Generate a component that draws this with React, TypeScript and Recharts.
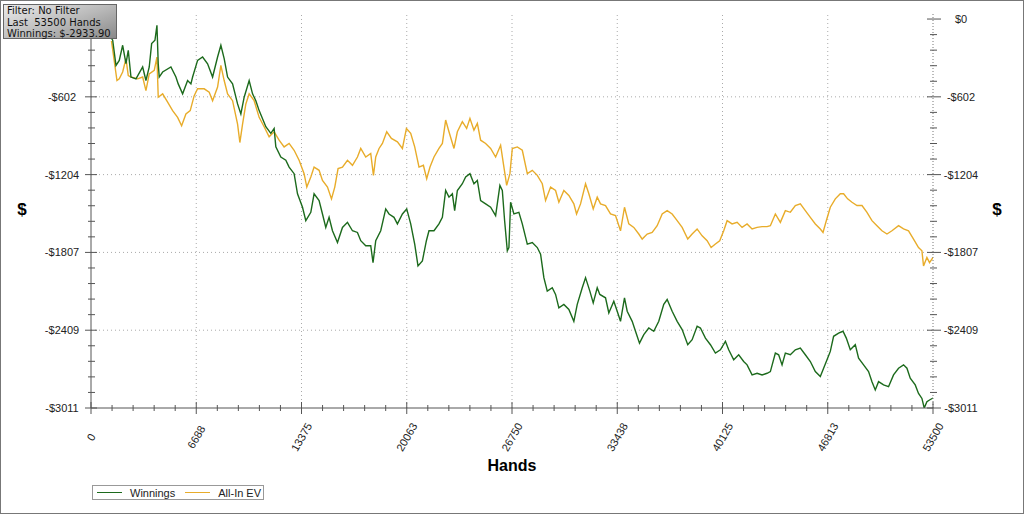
import { LineChart, Line, XAxis, YAxis, ReferenceLine } from 'recharts'

// hands played vs cumulative $
const WINNINGS: [number, number][] = [
  [1200, -130], [1378, -164], [1587, -359], [1796, -320], [2012, -203], [2222, -346], [2368, -242], [2539, -449],
  [2857, -463], [3282, -371], [3491, -476], [3701, -371], [3853, -190], [4063, -164], [4190, -48], [4272, -346],
  [4336, -449], [4552, -410], [5078, -371], [5396, -449], [5542, -502], [5821, -579], [6139, -476], [6348, -502],
  [6456, -449], [6773, -320], [7091, -294], [7408, -346], [7726, -449], [8043, -294], [8252, -203], [8462, -307],
  [8678, -449], [8995, -502], [9313, -657], [9522, -735], [9732, -605], [10049, -476], [10265, -579], [10474, -632],
  [10684, -709], [11109, -834], [11426, -885], [11636, -847], [11744, -990], [12061, -1068], [12379, -1093],
  [12588, -1146], [12906, -1197], [13121, -1353], [13439, -1457], [13648, -1561], [13966, -1496], [14175, -1353],
  [14493, -1405], [14708, -1509], [14918, -1613], [15127, -1535], [15343, -1639], [15661, -1730], [15978, -1613],
  [16295, -1574], [16613, -1639], [16930, -1652], [17140, -1716], [17457, -1755], [17774, -1755], [17920, -1885],
  [18092, -1716], [18409, -1639], [18727, -1470], [18936, -1509], [19253, -1535], [19469, -1586], [19787, -1509],
  [20060, -1470], [20314, -1586], [20568, -1742], [20777, -1911], [21056, -1872], [21310, -1716], [21475, -1639],
  [21793, -1639], [22110, -1586], [22326, -1535], [22535, -1327], [22745, -1379], [22961, -1353], [23107, -1483],
  [23278, -1327], [23595, -1275], [23805, -1223], [24078, -1197], [24332, -1275], [24548, -1249], [24757, -1405],
  [25075, -1431], [25392, -1457], [25709, -1522], [25982, -1288], [26135, -1327], [26281, -1561], [26452, -1794],
  [26554, -1769], [26662, -1418], [26871, -1509], [27188, -1496], [27404, -1586], [27722, -1742], [28039, -1730],
  [28357, -1769], [28566, -1820], [28775, -2002], [28991, -2106], [29309, -2080], [29518, -2132], [29728, -2236],
  [30045, -2209], [30363, -2248], [30680, -2340], [30896, -2209], [31213, -2080], [31423, -2002], [31696, -2106],
  [31911, -2197], [32165, -2080], [32330, -2132], [32692, -2158], [32902, -2275], [33219, -2184], [33435, -2262],
  [33644, -2340], [33898, -2158], [34070, -2262], [34387, -2340], [34597, -2417], [34851, -2509], [35124, -2443],
  [35441, -2392], [35758, -2417], [36076, -2340], [36393, -2209], [36609, -2171], [36926, -2262], [37244, -2340],
  [37561, -2404], [37917, -2521], [38196, -2482], [38513, -2378], [38723, -2392], [39040, -2470], [39358, -2521],
  [39675, -2586], [39992, -2560], [40310, -2495], [40519, -2560], [40837, -2638], [41154, -2599], [41471, -2651],
  [41687, -2677], [42005, -2755], [42322, -2742], [42640, -2755], [42957, -2742], [43166, -2729], [43484, -2586],
  [43693, -2599], [43909, -2677], [44119, -2586], [44436, -2599], [44753, -2560], [45071, -2547], [45388, -2599],
  [45706, -2651], [46023, -2729], [46340, -2768], [46550, -2703], [46766, -2638], [46975, -2573], [47185, -2456],
  [47502, -2431], [47781, -2417], [47991, -2470], [48245, -2560], [48562, -2521], [48772, -2625], [49089, -2677],
  [49406, -2729], [49622, -2807], [49832, -2871], [50041, -2807], [50359, -2832], [50676, -2846], [50993, -2755],
  [51311, -2703], [51628, -2677], [51844, -2703], [52054, -2781], [52371, -2832], [52580, -2898], [52796, -2937],
  [52942, -3011], [53113, -2963], [53279, -2949], [53500, -2934],
]

const ALLIN_EV: [number, number][] = [
  [1300, -170], [1650, -476], [1796, -463], [2012, -410], [2222, -307], [2368, -437], [2539, -449], [2965, -463],
  [3282, -449], [3491, -554], [3701, -424], [4018, -398], [4190, -294], [4272, -605], [4552, -579], [4869, -644],
  [5186, -709], [5504, -761], [5758, -826], [6031, -735], [6304, -709], [6557, -593], [6773, -540], [7192, -540],
  [7510, -566], [7726, -632], [8043, -527], [8252, -359], [8462, -476], [8678, -579], [8995, -632], [9313, -813],
  [9459, -956], [9630, -813], [9839, -657], [10049, -579], [10366, -632], [10684, -761], [11001, -834],
  [11319, -912], [11636, -873], [11953, -938], [12271, -990], [12588, -963], [12906, -1016], [13223, -1093],
  [13540, -1197], [13712, -1301], [13966, -1223], [14175, -1146], [14493, -1171], [14708, -1249], [15026, -1301],
  [15280, -1392], [15489, -1301], [15699, -1158], [15978, -1146], [16295, -1093], [16613, -1132], [16930, -1068],
  [17140, -1002], [17457, -1068], [17774, -1041], [17946, -1210], [18092, -1068], [18302, -1002], [18517, -963],
  [18790, -873], [19088, -924], [19469, -951], [19787, -1002], [20041, -847], [20314, -885], [20568, -990],
  [20841, -1146], [21120, -1132], [21329, -1236], [21539, -1146], [21793, -1068], [22110, -1002], [22326, -963],
  [22535, -782], [22745, -873], [23063, -1002], [23278, -873], [23595, -795], [23868, -847], [24078, -769],
  [24332, -860], [24548, -808], [24757, -938], [25075, -963], [25392, -1002], [25709, -1068], [26027, -977],
  [26236, -1146], [26411, -1288], [26617, -1197], [26770, -1002], [27087, -990], [27404, -1016], [27722, -1197],
  [28039, -1171], [28357, -1210], [28674, -1275], [28883, -1405], [29201, -1301], [29518, -1327], [29728, -1418],
  [30045, -1327], [30363, -1366], [30680, -1431], [30852, -1509], [31105, -1431], [31423, -1275], [31633, -1353],
  [31911, -1470], [32165, -1379], [32375, -1431], [32692, -1444], [33010, -1509], [33327, -1522], [33644, -1639],
  [33898, -1457], [34171, -1586], [34489, -1613], [34806, -1664], [35022, -1703], [35339, -1664], [35657, -1652],
  [35974, -1600], [36292, -1509], [36609, -1483], [36926, -1509], [37244, -1561], [37561, -1613], [37917, -1703],
  [38196, -1664], [38513, -1625], [38831, -1678], [39148, -1716], [39402, -1769], [39675, -1742], [39948, -1716],
  [40202, -1639], [40418, -1561], [40735, -1586], [41053, -1574], [41370, -1613], [41687, -1586], [42005, -1625],
  [42322, -1613], [42640, -1607], [42957, -1607], [43166, -1600], [43484, -1509], [43801, -1574], [44119, -1483],
  [44436, -1496], [44753, -1444], [45071, -1431], [45388, -1483], [45706, -1535], [46023, -1586], [46340, -1625],
  [46512, -1652], [46721, -1561], [46975, -1457], [47293, -1392], [47610, -1353], [47820, -1353], [48074, -1392],
  [48353, -1418], [48670, -1444], [48988, -1444], [49305, -1496], [49622, -1561], [49940, -1600], [50257, -1639],
  [50575, -1664], [50892, -1639], [51311, -1600], [51628, -1625], [51946, -1639], [52263, -1703], [52580, -1769],
  [52796, -1794], [52898, -1911], [53113, -1846], [53279, -1885], [53500, -1846],
]

const X_TICKS = [0, 6687.5, 13375, 20062.5, 26750, 33437.5, 40125, 46812.5, 53500]
const Y_TICKS = [0, -602.2, -1204.4, -1806.6, -2408.8, -3011]
const Y_DOMAIN = [-3011, 39]

const INFO_LINES = ['Filter: No Filter', 'Last  53500 Hands', 'Winnings: $-2933.90']

const GREEN = '#1c6a1c'
const GOLD = '#e8ac2a'
const AXIS = '#555'
const FONT = "'Liberation Sans', Arial, sans-serif"

// 5 minor steps between each labelled tick
const withMinor = (major: number[]) => {
  const out: number[] = []
  for (let i = 0; i < major.length - 1; i++) {
    const step = (major[i + 1] - major[i]) / 5
    for (let j = 0; j < 5; j++) out.push(major[i] + j * step)
  }
  out.push(major[major.length - 1])
  return out
}
const X_ALL = withMinor(X_TICKS)
const Y_ALL = withMinor(Y_TICKS)

const winData = WINNINGS.map(([hands, value]) => ({ hands, value }))
const evData = ALLIN_EV.map(([hands, value]) => ({ hands, value }))

const fmtDollar = (v: number) => (Math.round(v) === 0 ? '$0' : `-$${Math.abs(Math.round(v))}`)

const BottomTick = ({ x, y, payload }: any) => {
  const major = X_TICKS.includes(payload.value)
  const ly = y + 29
  return (
    <g>
      <line x1={x} x2={x} y1={y - (major ? 6 : 3)} y2={y + (major ? 6 : 3)} stroke={AXIS} />
      {major && (
        <text
          x={x}
          y={ly}
          transform={`rotate(-60 ${x} ${ly})`}
          textAnchor="middle"
          dominantBaseline="central"
          fontSize={11}
          fontFamily={FONT}
          fill="#222"
        >
          {Math.round(payload.value)}
        </text>
      )}
    </g>
  )
}

const TopTick = ({ x, y }: any) => <line x1={x} x2={x} y1={y - 3} y2={y} stroke={AXIS} />

// left $0 sits under the info box, so it is not labelled
const LeftTick = ({ x, y, payload }: any) => {
  const major = Y_TICKS.includes(payload.value)
  return (
    <g>
      <line x1={x - (major ? 6 : 3)} x2={x + (major ? 6 : 4)} y1={y} y2={y} stroke={AXIS} />
      {major && payload.value !== 0 && (
        <text x={x - 29} y={y} textAnchor="middle" dominantBaseline="central" fontSize={11} fontFamily={FONT} fill="#222">
          {fmtDollar(payload.value)}
        </text>
      )}
    </g>
  )
}

const RightTick = ({ x, y, payload }: any) => {
  const major = Y_TICKS.includes(payload.value)
  return (
    <g>
      <line x1={x - (major ? 6 : 3)} x2={x + (major ? 8 : 4)} y1={y} y2={y} stroke={AXIS} />
      {major && (
        <text x={x + 28} y={y} textAnchor="middle" dominantBaseline="central" fontSize={11} fontFamily={FONT} fill="#222">
          {fmtDollar(payload.value)}
        </text>
      )}
    </g>
  )
}

export default function App() {
  return (
    <div style={{ position: 'absolute', left: 0, top: 0, width: 1024, height: 514, background: '#fff', fontFamily: FONT }}>
      <LineChart width={1024} height={514} margin={{ top: 14, right: 0, bottom: 0, left: 0 }}>
        <XAxis
          dataKey="hands"
          type="number"
          domain={[0, 53500]}
          ticks={X_ALL}
          interval={0}
          height={106}
          tickSize={0}
          tickMargin={0}
          tick={<BottomTick />}
          axisLine={{ stroke: AXIS }}
          allowDataOverflow
        />
        <XAxis
          xAxisId="top"
          orientation="top"
          type="number"
          domain={[0, 53500]}
          ticks={X_ALL}
          interval={0}
          height={0}
          tickSize={0}
          tickMargin={0}
          tick={<TopTick />}
          axisLine={{ stroke: AXIS }}
          allowDataOverflow
        />
        <YAxis
          type="number"
          domain={Y_DOMAIN}
          ticks={Y_ALL}
          interval={0}
          width={91}
          tickSize={0}
          tickMargin={0}
          tick={<LeftTick />}
          axisLine={{ stroke: AXIS }}
          allowDataOverflow
        />
        <YAxis
          yAxisId="right"
          orientation="right"
          type="number"
          domain={Y_DOMAIN}
          ticks={Y_ALL}
          interval={0}
          width={91}
          tickSize={0}
          tickMargin={0}
          tick={<RightTick />}
          axisLine={{ stroke: '#777', strokeDasharray: '1 2' }}
          allowDataOverflow
        />
        {X_TICKS.slice(1, -1).map((v) => (
          <ReferenceLine key={`x${v}`} x={v} stroke="#aaa" strokeDasharray="1 3" />
        ))}
        {Y_TICKS.slice(1, -1).map((v) => (
          <ReferenceLine key={`y${v}`} y={v} stroke="#aaa" strokeDasharray="1 3" />
        ))}
        <Line data={evData} dataKey="value" name="All-In EV" type="linear" stroke={GOLD} strokeWidth={1.4} dot={false} isAnimationActive={false} />
        <Line data={winData} dataKey="value" name="Winnings" type="linear" stroke={GREEN} strokeWidth={1.4} dot={false} isAnimationActive={false} />
      </LineChart>

      <div style={{ position: 'absolute', left: 14, top: 200, width: 16, textAlign: 'center', fontWeight: 'bold', fontSize: 17 }}>$</div>
      <div style={{ position: 'absolute', left: 989, top: 200, width: 16, textAlign: 'center', fontWeight: 'bold', fontSize: 17 }}>$</div>
      <div style={{ position: 'absolute', left: 462, top: 457, width: 100, textAlign: 'center', fontWeight: 'bold', fontSize: 16 }}>Hands</div>

      <div
        style={{
          position: 'absolute',
          left: 92,
          top: 485,
          width: 172,
          height: 15,
          border: '1px solid #999',
          background: '#fff',
          display: 'flex',
          alignItems: 'center',
          fontSize: 11,
          color: '#222',
          boxSizing: 'border-box',
        }}
      >
        <span style={{ display: 'inline-block', width: 25, height: 1, background: GREEN, marginLeft: 4, marginRight: 8 }} />
        <span>Winnings</span>
        <span style={{ display: 'inline-block', width: 25, height: 1, background: GOLD, marginLeft: 10, marginRight: 8 }} />
        <span>All-In EV</span>
      </div>

      <div
        style={{
          position: 'absolute',
          left: 3,
          top: 4,
          width: 114,
          height: 35,
          border: '1px solid #666',
          boxSizing: 'border-box',
          background: 'linear-gradient(160deg, #ececec 0%, #b8b8b8 55%, #8a8a8a 100%)',
          fontFamily: "'DejaVu Sans', sans-serif",
          fontSize: 10,
          lineHeight: '11.5px',
          color: '#111',
          padding: '0 0 0 3px',
          whiteSpace: 'pre',
        }}
      >
        {INFO_LINES.map((t) => (
          <div key={t}>{t}</div>
        ))}
      </div>

      <div style={{ position: 'absolute', inset: 0, border: '1px solid #777', pointerEvents: 'none' }} />
    </div>
  )
}
